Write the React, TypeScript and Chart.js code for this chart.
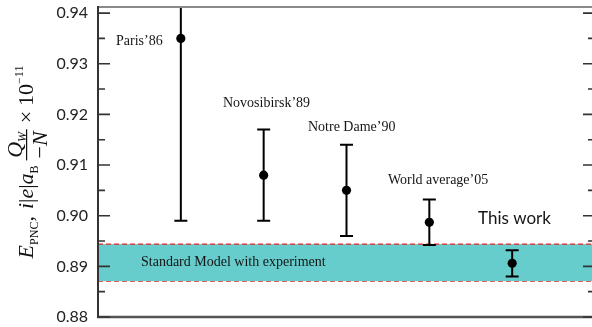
import { useEffect, useRef } from "react";
import { Chart, registerables } from "chart.js";

Chart.register(...registerables);

// ---- data ----
const experiments = ["Paris’86", "Novosibirsk’89", "Notre Dame’90", "World average’05", "This work"];
const xPositions = [1, 2, 3, 4, 5];
const values = [0.935, 0.908, 0.905, 0.8987, 0.8906];
const errors = [0.036, 0.009, 0.009, 0.0045, 0.0026];
const bandUpper = 0.8944;
const bandLower = 0.8871;
const bandLabel = "Standard Model with experiment";
const yTicks = [0.88, 0.89, 0.9, 0.91, 0.92, 0.93, 0.94];
const yMinorTicks = [0.885, 0.895, 0.905, 0.915, 0.925, 0.935];
// label anchors in data coordinates
const labelX = [0.217, 1.509, 2.535, 3.5, 4.588];
const labelY = [0.9345, 0.9222, 0.9175, 0.907, 0.8994];
const bandLabelX = 0.519;
const bandLabelY = 0.8907;

const SERIF = '"Liberation Serif", "Times New Roman", serif';

function drawTitle(ctx: CanvasRenderingContext2D, baseX: number, centerY: number) {
  const it = `italic 22px ${SERIF}`;
  const rm = `22px ${SERIF}`;
  const sub = `12px ${SERIF}`;
  const subIt = `italic 12px ${SERIF}`;
  type P = { t: string; f: string; dy: number } | { gap: number } | { frac: true };
  const seq: P[] = [
    { t: "E", f: it, dy: 0 },
    { t: "PNC", f: sub, dy: 5 },
    { t: ",", f: rm, dy: 0 },
    { gap: 7 },
    { t: "i", f: it, dy: 0 },
    { t: "|", f: rm, dy: 0 },
    { t: "e", f: it, dy: 0 },
    { t: "|", f: rm, dy: 0 },
    { t: "a", f: it, dy: 0 },
    { t: "B", f: sub, dy: 5 },
    { gap: 5 },
    { frac: true },
    { gap: 6 },
    { t: "×", f: rm, dy: 0 },
    { gap: 5 },
    { t: "10", f: rm, dy: 0 },
    { t: "−11", f: sub, dy: -10 },
  ];
  const w = (t: string, f: string) => {
    ctx.font = f;
    return ctx.measureText(t).width;
  };
  const numW = w("Q", it) + w("W", subIt);
  const denW = w("−", rm) + w("N", it);
  const fracW = Math.max(numW, denW) + 4;
  let total = 0;
  for (const p of seq) {
    if ("gap" in p) total += p.gap;
    else if ("frac" in p) total += fracW;
    else total += w(p.t, p.f);
  }
  ctx.save();
  ctx.translate(baseX, centerY + total / 2);
  ctx.rotate(-Math.PI / 2);
  ctx.fillStyle = "#111";
  ctx.textBaseline = "alphabetic";
  ctx.textAlign = "left";
  let cx = 0;
  for (const p of seq) {
    if ("gap" in p) {
      cx += p.gap;
    } else if ("frac" in p) {
      let nx = cx + (fracW - numW) / 2;
      ctx.font = it;
      ctx.fillText("Q", nx, -11);
      nx += w("Q", it);
      ctx.font = subIt;
      ctx.fillText("W", nx, -7);
      let dx = cx + (fracW - denW) / 2;
      ctx.font = rm;
      ctx.fillText("−", dx, 14);
      dx += w("−", rm);
      ctx.font = it;
      ctx.fillText("N", dx, 14);
      ctx.fillRect(cx, -7, fracW, 1.2);
      cx += fracW;
    } else {
      ctx.font = p.f;
      ctx.fillText(p.t, cx, p.dy);
      cx += ctx.measureText(p.t).width;
    }
  }
  ctx.restore();
}

const overlay = {
  id: "overlay",
  afterDatasetsDraw(chart: any) {
    const { ctx, chartArea: a, scales } = chart;
    const x = scales.x;
    const y = scales.y;
    // error bars and points
    ctx.save();
    ctx.beginPath();
    ctx.rect(a.left, a.top, a.right - a.left, a.bottom - a.top);
    ctx.clip();
    ctx.strokeStyle = "#000";
    ctx.lineWidth = 2;
    values.forEach((v, i) => {
      const px = x.getPixelForValue(xPositions[i]);
      const pt = y.getPixelForValue(v + errors[i]);
      const pb = y.getPixelForValue(v - errors[i]);
      ctx.beginPath();
      ctx.moveTo(px, pt);
      ctx.lineTo(px, pb);
      ctx.moveTo(px - 6.5, pt);
      ctx.lineTo(px + 6.5, pt);
      ctx.moveTo(px - 6.5, pb);
      ctx.lineTo(px + 6.5, pb);
      ctx.stroke();
      ctx.beginPath();
      ctx.fillStyle = "#000";
      ctx.arc(px, y.getPixelForValue(v), 4.6, 0, Math.PI * 2);
      ctx.fill();
    });
    ctx.restore();

    // labels
    ctx.save();
    ctx.fillStyle = "#151515";
    ctx.textBaseline = "middle";
    ctx.textAlign = "left";
    experiments.forEach((name, i) => {
      ctx.font = i === experiments.length - 1 ? '17px Lato, "Open Sans", sans-serif' : `14px ${SERIF}`;
      ctx.fillText(name, x.getPixelForValue(labelX[i]), y.getPixelForValue(labelY[i]));
    });
    ctx.font = `14px ${SERIF}`;
    ctx.fillText(bandLabel, x.getPixelForValue(bandLabelX), y.getPixelForValue(bandLabelY));
    ctx.restore();

    // frame
    ctx.save();
    ctx.lineCap = "butt";
    ctx.strokeStyle = "#8a8a8a";
    ctx.lineWidth = 2;
    ctx.beginPath();
    ctx.moveTo(a.left, a.top);
    ctx.lineTo(a.right, a.top);
    ctx.stroke();
    ctx.strokeStyle = "#555";
    ctx.lineWidth = 2.5;
    ctx.beginPath();
    ctx.moveTo(a.left - 1, a.bottom);
    ctx.lineTo(a.right, a.bottom);
    ctx.stroke();
    ctx.strokeStyle = "#333";
    ctx.lineWidth = 2;
    ctx.beginPath();
    ctx.moveTo(a.left, a.top - 1);
    ctx.lineTo(a.left, a.bottom + 1);
    ctx.stroke();
    ctx.strokeStyle = "#333";
    ctx.lineWidth = 1.6;
    ctx.beginPath();
    yTicks.forEach((v) => {
      const py = y.getPixelForValue(v);
      ctx.moveTo(a.left, py);
      ctx.lineTo(a.left + 12, py);
      ctx.moveTo(a.right - 12, py);
      ctx.lineTo(a.right, py);
    });
    yMinorTicks.forEach((v) => {
      const py = y.getPixelForValue(v);
      ctx.moveTo(a.left, py);
      ctx.lineTo(a.left + 7, py);
      ctx.moveTo(a.right - 7, py);
      ctx.lineTo(a.right, py);
    });
    ctx.stroke();
    ctx.restore();
  },
  afterDraw(chart: any) {
    const { ctx, chartArea: a } = chart;
    drawTitle(ctx, 33, (a.top + a.bottom) / 2);
  },
};

export default function App() {
  const ref = useRef<HTMLCanvasElement | null>(null);
  useEffect(() => {
    document.body.style.margin = "0";
    document.body.style.overflow = "hidden";
    const canvas = ref.current!;
    const bandLine = {
      type: "line",
      borderColor: "#e02626",
      borderWidth: 1.3,
      borderDash: [5, 3],
      pointRadius: 0,
    };
    const chart = new Chart(canvas, {
      type: "scatter",
      data: {
        datasets: [
          {
            ...bandLine,
            data: [
              { x: 0, y: bandUpper },
              { x: 6, y: bandUpper },
            ],
            fill: "+1",
            backgroundColor: "#66cccc",
          } as any,
          {
            ...bandLine,
            data: [
              { x: 0, y: bandLower },
              { x: 6, y: bandLower },
            ],
            fill: false,
          } as any,
        ],
      },
      options: {
        animation: false,
        responsive: false,
        layout: { padding: { top: 7, bottom: 10, right: 5, left: 0 } },
        plugins: { legend: { display: false }, tooltip: { enabled: false } },
        scales: {
          x: { type: "linear", min: 0, max: 6, display: false },
          y: {
            type: "linear",
            min: 0.88,
            max: 0.9412,
            grid: { display: false, drawTicks: false },
            border: { display: false },
            ticks: {
              padding: 10,
              color: "#222",
              font: { family: 'Lato, "Open Sans", sans-serif', size: 16 },
              callback: (v: any) => Number(v).toFixed(2),
            },
            afterBuildTicks: (s: any) => {
              s.ticks = yTicks.map((v) => ({ value: v }));
            },
            afterFit: (s: any) => {
              s.width = 98;
              s.paddingTop = 0;
              s.paddingBottom = 0;
            },
          },
        },
      },
      plugins: [overlay],
    });
    return () => chart.destroy();
  }, []);
  return (
    <div style={{ width: 592, height: 327, overflow: "hidden", position: "relative" }}>
      <canvas ref={ref} width={600} height={327} style={{ display: "block", width: 600, height: 327 }} />
    </div>
  );
}
